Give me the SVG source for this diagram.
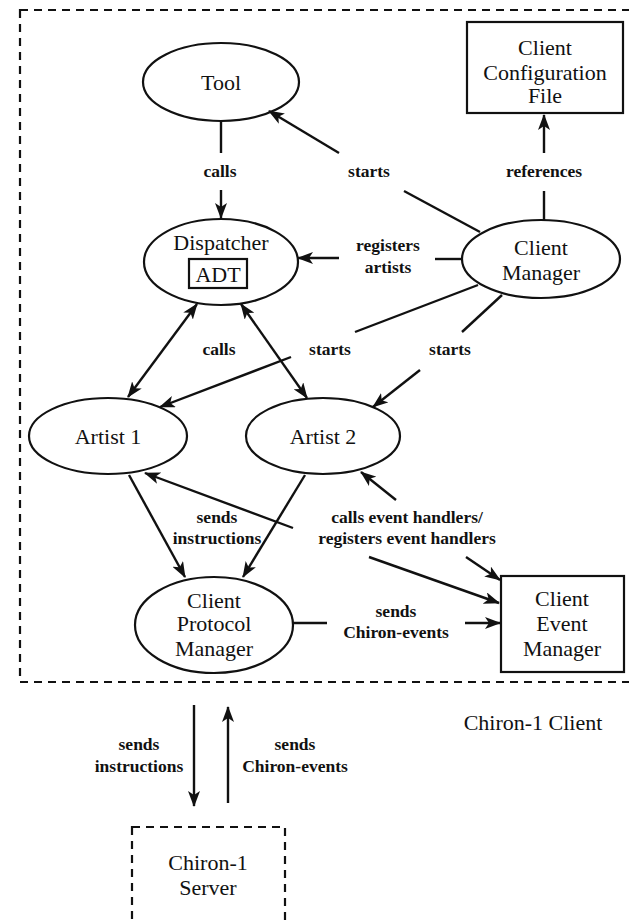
<svg xmlns="http://www.w3.org/2000/svg" width="629" height="920" viewBox="0 0 629 920">
<style>
.n{fill:#fff;stroke:#111;stroke-width:2.2}
.d{fill:none;stroke:#111;stroke-width:2.2;stroke-dasharray:8,6}
.c{fill:none;stroke:#111;stroke-width:2.4}
.t{font-family:"Liberation Serif","Times New Roman",serif;font-size:22px;fill:#111;text-anchor:middle}
.l{font-family:"Liberation Serif","Times New Roman",serif;font-size:17.5px;fill:#111;text-anchor:middle;font-weight:bold}
</style>
<defs>
<marker id="a" viewBox="0 0 16 12" refX="15" refY="6" markerWidth="16" markerHeight="12" markerUnits="userSpaceOnUse" orient="auto-start-reverse">
<path d="M0,0 L16,6 L0,12 L4,6 z" fill="#111"/>
</marker>
</defs>
<rect class="d" x="20" y="10" width="620" height="672"/>
<rect class="d" x="132" y="827" width="153" height="110"/>
<g id="tool"><ellipse class="n" cx="221" cy="82" rx="78" ry="39"/><text class="t" x="221" y="90">Tool</text></g>
<g id="config"><rect class="n" x="467" y="22" width="156" height="91"/><text class="t" x="545" y="55">Client</text><text class="t" x="545" y="80">Configuration</text><text class="t" x="545" y="103">File</text></g>
<g id="dispatcher"><ellipse class="n" cx="221" cy="262" rx="77" ry="43"/><text class="t" x="221" y="250">Dispatcher</text><rect class="n" x="189" y="259" width="58" height="29"/><text class="t" x="218" y="282">ADT</text></g>
<g id="clientmanager"><ellipse class="n" cx="541" cy="259" rx="79" ry="39"/><text class="t" x="541" y="255">Client</text><text class="t" x="541" y="280">Manager</text></g>
<g id="artist1"><ellipse class="n" cx="108" cy="436" rx="79" ry="38"/><text class="t" x="108" y="444">Artist 1</text></g>
<g id="artist2"><ellipse class="n" cx="323" cy="436" rx="77" ry="38"/><text class="t" x="323" y="444">Artist 2</text></g>
<g id="cpm"><ellipse class="n" cx="214" cy="625" rx="79" ry="48"/><text class="t" x="214" y="608">Client</text><text class="t" x="214" y="631">Protocol</text><text class="t" x="214" y="656">Manager</text></g>
<g id="cem"><rect class="n" x="501" y="576" width="123" height="96"/><text class="t" x="562" y="606">Client</text><text class="t" x="562" y="631">Event</text><text class="t" x="562" y="656">Manager</text></g>
<g id="server"><text class="t" x="208" y="870">Chiron-1</text><text class="t" x="208" y="895">Server</text></g>
<text class="t" x="533" y="730">Chiron-1 Client</text>
<g id="connectors">
<path class="c" d="M221,121 V153"/><path class="c" d="M221,190 V218" marker-end="url(#a)"/>
<text class="l" x="220" y="177">calls</text>
<path class="c" d="M339,153 L269,111" marker-end="url(#a)"/><path class="c" d="M404,191 L480,232"/>
<text class="l" x="369" y="177">starts</text>
<path class="c" d="M544,153 V115" marker-end="url(#a)"/><path class="c" d="M544,191 V220"/>
<text class="l" x="544" y="177">references</text>
<path class="c" d="M339,258 H298" marker-end="url(#a)"/><path class="c" d="M435,259 H462"/>
<text class="l" x="388" y="251">registers</text><text class="l" x="388" y="273">artists</text>
<path class="c" d="M478,285 L355,332"/><path class="c" d="M291,357 L160,407" marker-end="url(#a)"/>
<text class="l" x="330" y="355">starts</text>
<path class="c" d="M502,295 L462,332"/><path class="c" d="M420,370 L373,407" marker-end="url(#a)"/>
<text class="l" x="450" y="355">starts</text>
<path class="c" d="M197,304 L128,397" marker-start="url(#a)" marker-end="url(#a)"/>
<path class="c" d="M241,304 L307,398" marker-start="url(#a)" marker-end="url(#a)"/>
<text class="l" x="219" y="355">calls</text>
<path class="c" d="M129,475 L185,577" marker-end="url(#a)"/>
<path class="c" d="M305,475 L243,577" marker-end="url(#a)"/>
<text class="l" x="217" y="523">sends</text><text class="l" x="217" y="544">instructions</text>
<path class="c" d="M293,528 L145,473" marker-end="url(#a)"/>
<path class="c" d="M396,500 L361,472" marker-end="url(#a)"/>
<text class="l" x="407" y="523">calls event handlers/</text><text class="l" x="407" y="544">registers event handlers</text>
<path class="c" d="M369,557 L499,603" marker-end="url(#a)"/>
<path class="c" d="M466,557 L500,580" marker-end="url(#a)"/>
<path class="c" d="M293,623 H327"/><path class="c" d="M465,623 H500" marker-end="url(#a)"/>
<text class="l" x="396" y="617">sends</text><text class="l" x="396" y="638">Chiron-events</text>
<path class="c" d="M194,705 V806" marker-end="url(#a)"/>
<path class="c" d="M228,803 V707" marker-end="url(#a)"/>
<text class="l" x="139" y="750">sends</text><text class="l" x="139" y="772">instructions</text>
<text class="l" x="295" y="750">sends</text><text class="l" x="295" y="772">Chiron-events</text>
</g>
</svg>
